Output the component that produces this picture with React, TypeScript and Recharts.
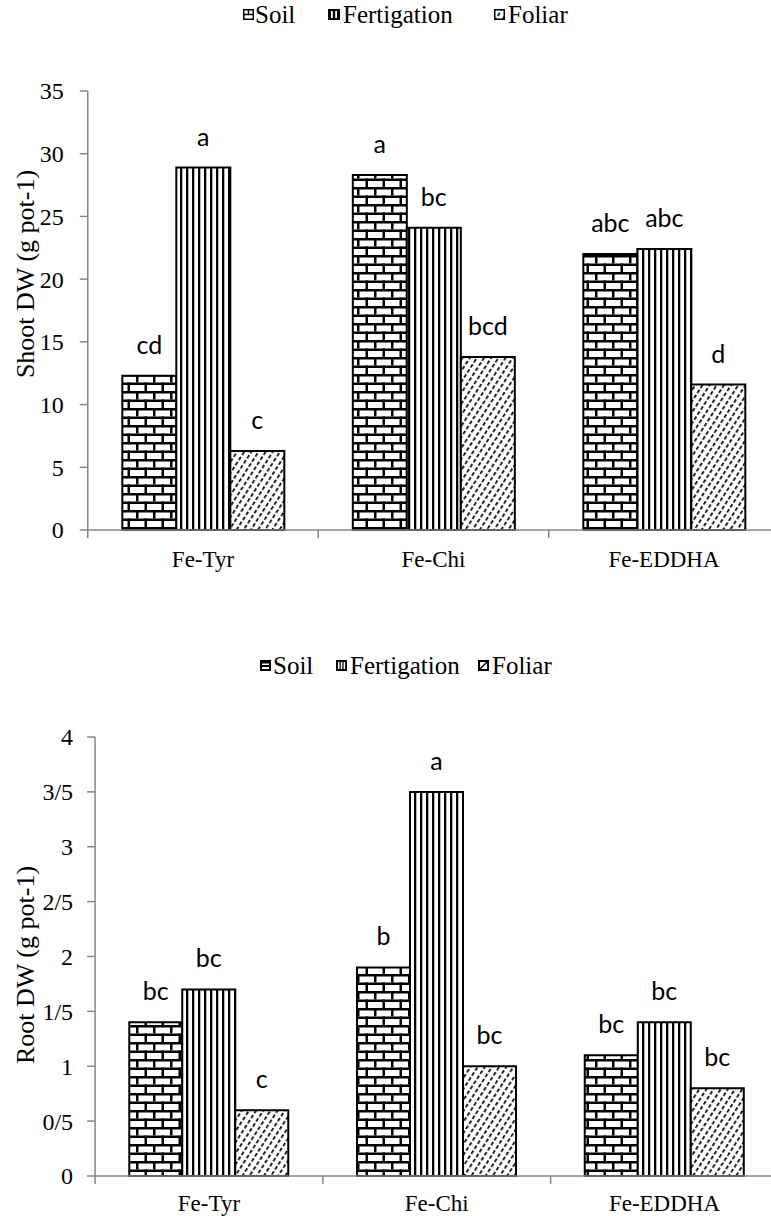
import React from 'react';
import { BarChart, Bar, XAxis, YAxis, LabelList } from 'recharts';

// ---------- data ----------
const categories = ['Fe-Tyr', 'Fe-Chi', 'Fe-EDDHA'];

const shootSoil = [12.3, 28.3, 22.0];
const shootFertigation = [28.9, 24.1, 22.4];
const shootFoliar = [6.3, 13.8, 11.6];
const shootSoilLetters = ['cd', 'a', 'abc'];
const shootFertigationLetters = ['a', 'bc', 'abc'];
const shootFoliarLetters = ['c', 'bcd', 'd'];
const shootTicks = [0, 5, 10, 15, 20, 25, 30, 35];

const rootSoil = [1.4, 1.9, 1.1];
const rootFertigation = [1.7, 3.5, 1.4];
const rootFoliar = [0.6, 1.0, 0.8];
const rootSoilLetters = ['bc', 'b', 'bc'];
const rootFertigationLetters = ['bc', 'a', 'bc'];
const rootFoliarLetters = ['c', 'bc', 'bc'];
const rootTicks = [0, 0.5, 1, 1.5, 2, 2.5, 3, 3.5, 4];

const seriesNames = ['Soil', 'Fertigation', 'Foliar'];

const shootData = categories.map((name, i) => ({
  name,
  soil: shootSoil[i],
  fert: shootFertigation[i],
  foliar: shootFoliar[i],
  soilL: shootSoilLetters[i],
  fertL: shootFertigationLetters[i],
  foliarL: shootFoliarLetters[i],
}));

const rootData = categories.map((name, i) => ({
  name,
  soil: rootSoil[i],
  fert: rootFertigation[i],
  foliar: rootFoliar[i],
  soilL: rootSoilLetters[i],
  fertL: rootFertigationLetters[i],
  foliarL: rootFoliarLetters[i],
}));

// ---------- styles ----------
const AXIS = '#868686';
const SERIF = '"Liberation Serif", "Times New Roman", Times, serif';
const LETTER_FONT = 'Lato, "Open Sans", sans-serif';

const Patterns = () => (
  <svg width={0} height={0} style={{ position: 'absolute' }}>
    <defs>
      <pattern id="brick" patternUnits="userSpaceOnUse" width={17} height={17}>
        <rect x={0} y={0} width={17} height={17} fill="#fff" />
        <rect x={0} y={0} width={17} height={2.5} fill="#000" />
        <rect x={0} y={8.5} width={17} height={2.5} fill="#000" />
        <rect x={0} y={0} width={2.5} height={8.5} fill="#000" />
        <rect x={8.5} y={8.5} width={2.5} height={8.5} fill="#000" />
      </pattern>
      <pattern id="vlines" patternUnits="userSpaceOnUse" width={6} height={6}>
        <rect x={0} y={0} width={6} height={6} fill="#fff" />
        <rect x={0} y={0} width={2.3} height={6} fill="#000" />
      </pattern>
      <pattern id="dashdiag" patternUnits="userSpaceOnUse" width={6} height={6} patternTransform="rotate(33)">
        <rect x={-1} y={-1} width={8} height={8} fill="#fff" />
        <rect x={0} y={0} width={1.7} height={3.8} fill="#000" />
      </pattern>
    </defs>
  </svg>
);

const LetterLabel = (props: any) => {
  const { x, y, width, value } = props;
  return (
    <text x={x + width / 2} y={y - 22} textAnchor="middle" fontFamily={LETTER_FONT} fontSize={25} fill="#000">
      {value}
    </text>
  );
};

const makeTick = (bw: number, dy: number, fontSize: number) => (props: any) => {
  const { x, y, payload, index } = props;
  const last = index === categories.length - 1;
  return (
    <g>
      <line x1={x - bw / 2} y1={y} x2={x - bw / 2} y2={y + 8} stroke={AXIS} strokeWidth={1.5} />
      {last && <line x1={x + bw / 2} y1={y} x2={x + bw / 2} y2={y + 8} stroke={AXIS} strokeWidth={1.5} />}
      <text x={x} y={y + dy} textAnchor="middle" style={{ fontFamily: SERIF, fontSize }} fill="#000">
        {payload.value}
      </text>
    </g>
  );
};

const makeYTick = (fontSize: number, gap: number, formatter?: (v: number) => string) => (props: any) => {
  const { x, y, payload } = props;
  const v = formatter ? formatter(payload.value) : String(payload.value);
  return (
    <g>
      <line x1={x + gap - 8} y1={y} x2={x + gap} y2={y} stroke={AXIS} strokeWidth={1.5} />
      <text x={x} y={y} dy="0.35em" textAnchor="end" style={{ fontFamily: SERIF, fontSize }} fill="#000">
        {v}
      </text>
    </g>
  );
};

type ChartProps = {
  data: any[];
  top: number;
  height: number;
  marginTop: number;
  marginLeft: number;
  marginRight: number;
  bw: number;
  yMax: number;
  ticks: number[];
  tickFont: number;
  tickGap: number;
  xFont: number;
  xDy: number;
  formatter?: (v: number) => string;
};

const Chart = (p: ChartProps) => (
  <div style={{ position: 'absolute', left: 0, top: p.top }}>
    <BarChart
      width={800}
      height={p.height}
      data={p.data}
      margin={{ top: p.marginTop, right: p.marginRight, bottom: 0, left: p.marginLeft }}
      barCategoryGap="15%"
      barGap={0}
    >
      <XAxis
        dataKey="name"
        height={50}
        tickLine={false}
        tickSize={0}
        tickMargin={0}
        axisLine={{ stroke: AXIS, strokeWidth: 1.5 }}
        tick={makeTick(p.bw, p.xDy, p.xFont)}
        interval={0}
      />
      <YAxis
        width={60}
        domain={[0, p.yMax]}
        ticks={p.ticks}
        interval={0}
        tickSize={0}
        tickMargin={p.tickGap}
        tickLine={false}
        axisLine={{ stroke: AXIS, strokeWidth: 1.5 }}
        tick={makeYTick(p.tickFont, p.tickGap, p.formatter)}
      />
      <Bar dataKey="soil" name={seriesNames[0]} fill="url(#brick)" stroke="#000" strokeWidth={2} isAnimationActive={false}>
        <LabelList dataKey="soilL" content={LetterLabel} />
      </Bar>
      <Bar dataKey="fert" name={seriesNames[1]} fill="url(#vlines)" stroke="#000" strokeWidth={2} isAnimationActive={false}>
        <LabelList dataKey="fertL" content={LetterLabel} />
      </Bar>
      <Bar dataKey="foliar" name={seriesNames[2]} fill="url(#dashdiag)" stroke="#000" strokeWidth={2} isAnimationActive={false}>
        <LabelList dataKey="foliarL" content={LetterLabel} />
      </Bar>
    </BarChart>
  </div>
);

// ---------- legend icons ----------
const IconSoilTop = () => (
  <svg width={11} height={11}>
    <rect x={0.75} y={0.75} width={9.5} height={9.5} fill="#fff" stroke="#000" strokeWidth={1.5} />
    <line x1={0} y1={5.5} x2={11} y2={5.5} stroke="#000" strokeWidth={1.5} />
    <line x1={5.5} y1={0} x2={5.5} y2={5.5} stroke="#000" strokeWidth={1.5} />
  </svg>
);
const IconFertTop = () => (
  <svg width={12} height={11}>
    <rect x={0} y={0} width={12} height={11} fill="#000" />
    <rect x={3} y={2} width={1.8} height={7} fill="#fff" />
    <rect x={7.2} y={2} width={1.8} height={7} fill="#fff" />
  </svg>
);
const IconFoliarTop = () => (
  <svg width={11} height={11}>
    <rect x={0.75} y={0.75} width={9.5} height={9.5} fill="url(#dashdiag)" stroke="#000" strokeWidth={1.5} />
  </svg>
);
const IconSoilBottom = () => (
  <svg width={11} height={11}>
    <rect x={1} y={1} width={9} height={9} fill="#fff" stroke="#000" strokeWidth={2} />
    <line x1={0} y1={6} x2={11} y2={6} stroke="#000" strokeWidth={2} />
    <rect x={1} y={1} width={9} height={2.5} fill="#000" />
  </svg>
);
const IconFertBottom = () => (
  <svg width={11} height={11}>
    <rect x={0} y={0} width={11} height={11} fill="#000" />
    <rect x={2} y={2} width={1.5} height={7} fill="#fff" />
    <rect x={4.8} y={2} width={1.5} height={7} fill="#fff" />
    <rect x={7.6} y={2} width={1.5} height={7} fill="#fff" />
  </svg>
);
const IconFoliarBottom = () => (
  <svg width={11} height={11}>
    <rect x={1} y={1} width={9} height={9} fill="#fff" stroke="#000" strokeWidth={2} />
    <line x1={2} y1={9} x2={9} y2={2} stroke="#000" strokeWidth={1.5} />
  </svg>
);

type LegendItem = { icon: React.ReactNode; iconX: number; textX: number; label: string };

const Legend = ({ items, cy }: { items: LegendItem[]; cy: number }) => (
  <>
    {items.map((it) => (
      <React.Fragment key={it.label}>
        <div style={{ position: 'absolute', left: it.iconX, top: cy - 6, lineHeight: 0 }}>{it.icon}</div>
        <div
          style={{
            position: 'absolute',
            left: it.textX,
            top: cy - 15,
            height: 30,
            lineHeight: '30px',
            fontFamily: SERIF,
            fontSize: 25,
            color: '#000',
            whiteSpace: 'nowrap',
          }}
        >
          {it.label}
        </div>
      </React.Fragment>
    ))}
  </>
);

const YTitle = ({ text, cx, cy }: { text: string; cx: number; cy: number }) => (
  <div
    style={{
      position: 'absolute',
      left: cx,
      top: cy,
      transform: 'translate(-50%, -50%) rotate(-90deg)',
      fontFamily: SERIF,
      fontSize: 26,
      whiteSpace: 'nowrap',
      color: '#000',
      lineHeight: '30px',
    }}
  >
    {text}
  </div>
);

const fmtRoot = (v: number) => String(v).replace('.', '/');

export default function App() {
  return (
    <div style={{ position: 'absolute', left: 0, top: 0, width: 771, height: 1216, overflow: 'hidden', background: '#fff' }}>
      <Patterns />
      <Legend
        cy={15}
        items={[
          { icon: <IconSoilTop />, iconX: 243, textX: 255, label: seriesNames[0] },
          { icon: <IconFertTop />, iconX: 328, textX: 343, label: seriesNames[1] },
          { icon: <IconFoliarTop />, iconX: 494, textX: 508, label: seriesNames[2] },
        ]}
      />
      <Chart
        data={shootData}
        top={0}
        height={580}
        marginTop={91}
        marginLeft={27.75}
        marginRight={20.75}
        bw={230.5}
        yMax={35}
        ticks={shootTicks}
        tickFont={24}
        tickGap={24}
        xFont={23}
        xDy={37}
      />
      <YTitle text="Shoot DW (g pot-1)" cx={26} cy={274} />

      <Legend
        cy={666}
        items={[
          { icon: <IconSoilBottom />, iconX: 260, textX: 273, label: seriesNames[0] },
          { icon: <IconFertBottom />, iconX: 336, textX: 350, label: seriesNames[1] },
          { icon: <IconFoliarBottom />, iconX: 478, textX: 492, label: seriesNames[2] },
        ]}
      />
      <Chart
        data={rootData}
        top={600}
        height={626}
        marginTop={137}
        marginLeft={35.1}
        marginRight={21.65}
        bw={227.75}
        yMax={4}
        ticks={rootTicks}
        tickFont={24}
        tickGap={22}
        xFont={23}
        xDy={35}
        formatter={fmtRoot}
      />
      <YTitle text="Root DW (g pot-1)" cx={26} cy={965} />
    </div>
  );
}
